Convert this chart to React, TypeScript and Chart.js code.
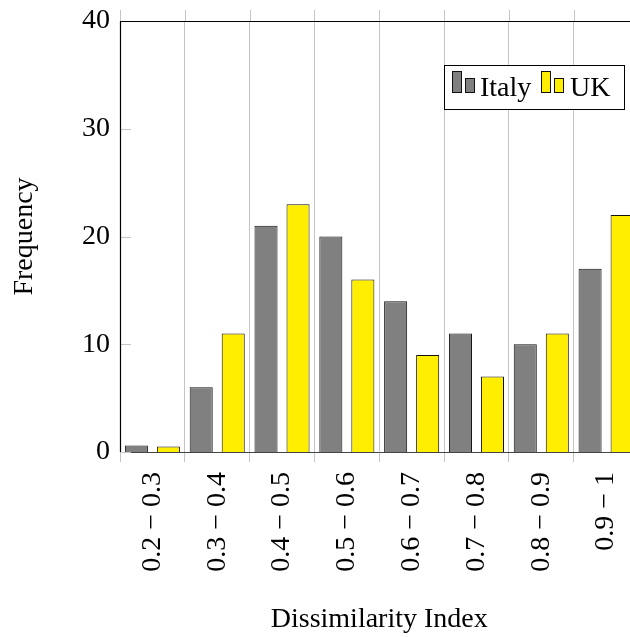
import React, { useEffect, useRef } from "react";
import { Chart, registerables } from "chart.js";

Chart.register(...registerables);

const categories = [
  "0.2 − 0.3",
  "0.3 − 0.4",
  "0.4 − 0.5",
  "0.5 − 0.6",
  "0.6 − 0.7",
  "0.7 − 0.8",
  "0.8 − 0.9",
  "0.9 − 1",
];
const italyValues = [0.6, 6, 21, 20, 14, 11, 10, 17];
const ukValues = [0.5, 11, 23, 16, 9, 7, 11, 22];
const yTicks = [0, 10, 20, 30, 40];

const FONT = "'Liberation Serif', 'Times New Roman', serif";
const GREY = "#808080";
const YELLOW = "#ffee00";
const GRID = "#c4c4c4";

const extrasPlugin = {
  id: "extras",
  beforeDatasetsDraw(chart: any) {
    const { ctx, chartArea } = chart;
    const ys = chart.scales.y;
    ctx.save();
    ctx.strokeStyle = GRID;
    ctx.lineWidth = 1;
    const n = categories.length;
    const step = (chartArea.right - chartArea.left) / n;
    for (let i = 0; i <= n; i++) {
      const x = Math.round(chartArea.left + i * step) + 0.5;
      ctx.beginPath();
      ctx.moveTo(x, chartArea.top - 11);
      ctx.lineTo(x, chartArea.top);
      ctx.stroke();
    }
    for (const v of yTicks) {
      const y = Math.round(ys.getPixelForValue(v)) + 0.5;
      ctx.beginPath();
      ctx.moveTo(chartArea.left, y);
      ctx.lineTo(chartArea.left + 11, y);
      ctx.stroke();
    }
    ctx.restore();
  },
  afterDatasetsDraw(chart: any) {
    const { ctx, chartArea } = chart;
    ctx.save();
    ctx.strokeStyle = "#000";
    ctx.lineWidth = 1.2;
    ctx.beginPath();
    ctx.moveTo(chartArea.left, Math.round(chartArea.top) + 0.5);
    ctx.lineTo(chartArea.right, Math.round(chartArea.top) + 0.5);
    ctx.stroke();
    ctx.beginPath();
    ctx.moveTo(Math.round(chartArea.left) + 0.5, chartArea.top);
    ctx.lineTo(Math.round(chartArea.left) + 0.5, chartArea.bottom);
    ctx.stroke();

    const bx = 444.5, by = 65.5, bw = 180, bh = 44;
    ctx.fillStyle = "#fff";
    ctx.fillRect(bx, by, bw, bh);
    ctx.strokeStyle = "#000";
    ctx.lineWidth = 1;
    ctx.strokeRect(bx, by, bw, bh);
    ctx.font = `28px ${FONT}`;
    ctx.textBaseline = "alphabetic";
    ctx.textAlign = "left";
    const drawIcon = (x: number, color: string) => {
      ctx.fillStyle = color;
      ctx.strokeStyle = "#111";
      ctx.fillRect(x, 71.5, 9, 21);
      ctx.strokeRect(x, 71.5, 9, 21);
      ctx.fillRect(x + 13, 78.5, 9, 14);
      ctx.strokeRect(x + 13, 78.5, 9, 14);
    };
    const ds = chart.data.datasets;
    drawIcon(452.5, GREY);
    ctx.fillStyle = "#000";
    ctx.fillText(ds[0].label, 480, 96);
    drawIcon(541.5, YELLOW);
    ctx.fillStyle = "#000";
    ctx.fillText(ds[1].label, 570, 96);
    ctx.restore();
  },
};

export default function App() {
  const ref = useRef<HTMLCanvasElement>(null);

  useEffect(() => {
    if (!ref.current) return;
    const chart = new Chart(ref.current, {
      type: "bar",
      data: {
        labels: categories,
        datasets: [
          {
            label: "Italy",
            data: italyValues,
            backgroundColor: GREY,
            borderColor: "#111",
            borderWidth: 1,
            categoryPercentage: 0.988,
            barPercentage: 0.72,
          },
          {
            label: "UK",
            data: ukValues,
            backgroundColor: YELLOW,
            borderColor: "#111",
            borderWidth: 1,
            categoryPercentage: 0.988,
            barPercentage: 0.72,
          },
        ],
      },
      options: {
        responsive: false,
        animation: false,
        maintainAspectRatio: false,
        layout: { padding: { top: 21, right: 21.5, left: 0, bottom: 0 } },
        plugins: {
          legend: { display: false },
          tooltip: { enabled: false },
          title: { display: false },
        },
        scales: {
          x: {
            afterFit: (s: any) => {
              s.height = 185;
              s.paddingLeft = 0;
              s.paddingRight = 0;
            },
            grid: {
              color: GRID,
              lineWidth: 1,
              offset: true,
              drawTicks: true,
              tickLength: 10,
            },
            border: { display: true, color: "#444", width: 1 },
            ticks: {
              autoSkip: false,
              minRotation: 90,
              maxRotation: 90,
              padding: 10,
              color: "#000",
              font: { family: FONT, size: 28 },
            },
            title: {
              display: true,
              text: "Dissimilarity Index",
              color: "#000",
              font: { family: FONT, size: 28 },
              padding: { top: 0, bottom: 1 },
            },
          },
          y: {
            min: 0,
            max: 40,
            afterFit: (s: any) => {
              s.width = 120;
              s.paddingTop = 0;
              s.paddingBottom = 0;
            },
            afterBuildTicks: (s: any) => {
              s.ticks = yTicks.map((v) => ({ value: v }));
            },
            grid: { display: false, drawTicks: false },
            border: { display: false },
            ticks: {
              padding: 10,
              color: "#000",
              font: { family: FONT, size: 28 },
            },
            title: {
              display: true,
              text: "Frequency",
              color: "#000",
              font: { family: FONT, size: 28 },
              padding: { top: 8, bottom: 0 },
            },
          },
        },
      },
      plugins: [extrasPlugin],
    });
    return () => chart.destroy();
  }, []);

  return (
    <div
      style={{
        position: "fixed",
        left: 0,
        top: 0,
        width: 630,
        height: 637,
        overflow: "hidden",
        background: "#fff",
      }}
    >
      <canvas ref={ref} width={660} height={637} style={{ display: "block" }} />
    </div>
  );
}
